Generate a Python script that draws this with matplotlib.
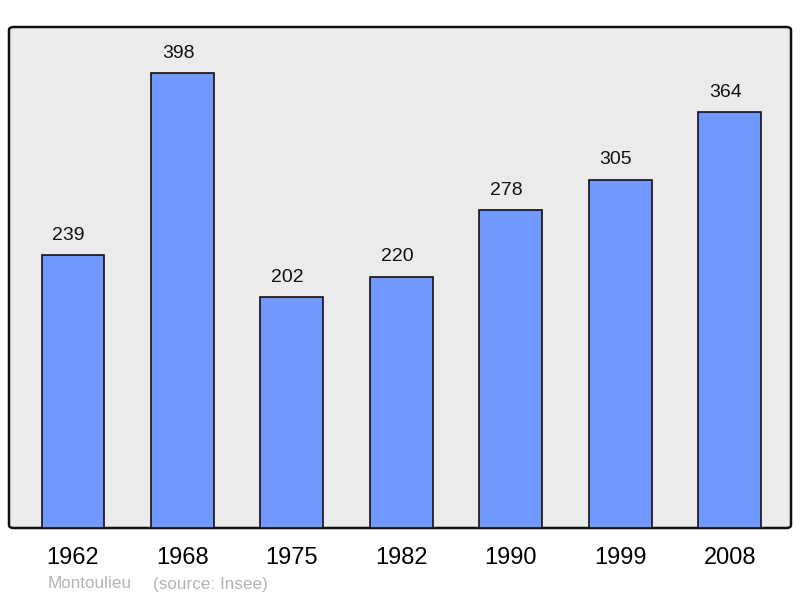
import matplotlib
matplotlib.use("agg")
import matplotlib.pyplot as plt
from matplotlib.patches import FancyBboxPatch

plt.rcParams['font.family'] = ['Liberation Sans', 'DejaVu Sans']

years = ['1962', '1968', '1975', '1982', '1990', '1999', '2008']
population = [239, 398, 202, 220, 278, 305, 364]
town = 'Montoulieu'
source = '(source: Insee)'

fig = plt.figure(figsize=(8, 5.98), dpi=100)
ax = fig.add_axes([9/800, 70/598, 782/800, 501/598])
ax.set_facecolor('none')

# rounded grey panel behind the bars
panel = FancyBboxPatch((0, 0), 1, 1, boxstyle='round,pad=0,rounding_size=0.006',
                       transform=ax.transAxes, facecolor='#ebebeb',
                       edgecolor='#111111', linewidth=1.8, zorder=0, clip_on=False)
ax.add_patch(panel)

x = range(len(years))
bars = ax.bar(x, population, width=0.575, color='#7098ff',
              edgecolor='#111111', linewidth=1.2, zorder=2)
for xi, v in zip(x, population):
    ax.text(xi - 0.04, v + 10, str(v), ha='center', va='bottom', fontsize=14, color='#111111')

ax.set_xlim(-0.585, 6.56)
ax.set_ylim(0, 438.5)
for s in ax.spines.values():
    s.set_visible(False)
ax.set_yticks([])
ax.set_xticks(list(x))
ax.set_xticklabels(years, fontsize=17)
ax.tick_params(axis='x', length=0, pad=14)

fig.text(48/800, 1 - 584/598, town, fontsize=12.3, color='#b4b4b4', va='center')
fig.text(153/800, 1 - 584/598, source, fontsize=12.3, color='#b4b4b4', va='center')

fig.savefig('out.png', dpi=100)
